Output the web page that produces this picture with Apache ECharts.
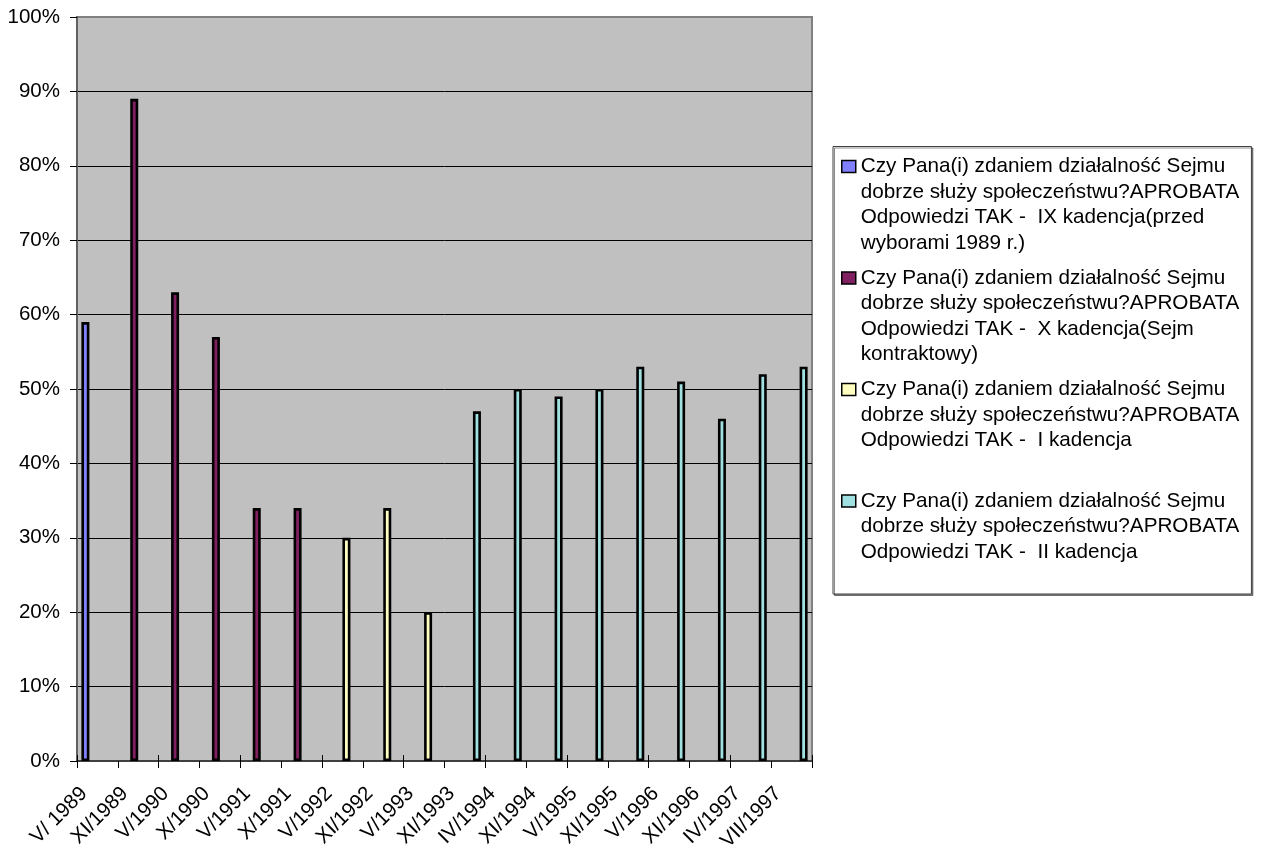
<!DOCTYPE html>
<html>
<head>
<meta charset="utf-8">
<script src="https://cdn.jsdelivr.net/npm/echarts@6/dist/echarts.min.js"></script>
<style>
  html, body { margin: 0; padding: 0; background: #ffffff; }
  #chart { width: 1264px; height: 854px; }
</style>
</head>
<body>
<div id="chart"></div>
<script>
// Survey dates (CBOS), one per category
const categories = [
  'V/ 1989', 'XI/1989', 'V/1990', 'X/1990', 'V/1991', 'X/1991',
  'V/1992', 'XI/1992', 'V/1993', 'XI/1993', 'IV/1994', 'XI/1994',
  'V/1995', 'XI/1995', 'V/1996', 'XI/1996', 'IV/1997', 'VII/1997'
];

// Share of "TAK" answers (%) per term of the Sejm
const kadencjaIX = [59, null, null, null, null, null, null, null, null, null, null, null, null, null, null, null, null, null];
const kadencjaX  = [null, 89, 63, 57, 34, 34, null, null, null, null, null, null, null, null, null, null, null, null];
const kadencjaI  = [null, null, null, null, null, null, 30, 34, 20, null, null, null, null, null, null, null, null, null];
const kadencjaII = [null, null, null, null, null, null, null, null, null, 47, 50, 49, 50, 53, 51, 46, 52, 53];

// Legend text, line by line
const legendIX = ['Czy Pana(i) zdaniem działalność Sejmu', 'dobrze służy społeczeństwu?APROBATA', 'Odpowiedzi TAK -  IX kadencja(przed', 'wyborami 1989 r.)'];
const legendX  = ['Czy Pana(i) zdaniem działalność Sejmu', 'dobrze służy społeczeństwu?APROBATA', 'Odpowiedzi TAK -  X kadencja(Sejm', 'kontraktowy)'];
const legendI  = ['Czy Pana(i) zdaniem działalność Sejmu', 'dobrze służy społeczeństwu?APROBATA', 'Odpowiedzi TAK -  I kadencja'];
const legendII = ['Czy Pana(i) zdaniem działalność Sejmu', 'dobrze służy społeczeństwu?APROBATA', 'Odpowiedzi TAK -  II kadencja'];

const yTicks = { min: 0, max: 100, step: 10 };

const colors = ['#8080FF', '#802060', '#FFFFC0', '#A0E0E0'];
const FONT = "'Liberation Sans', Arial, sans-serif";

const legendLines = [legendIX, legendX, legendI, legendII];
const seriesData = [kadencjaIX, kadencjaX, kadencjaI, kadencjaII];
const seriesNames = legendLines.map(l => l.join(' '));

// Every legend entry occupies a four-line slot; the swatch sits beside the first line
const LINE_H = 25.5;
const SLOT_H = LINE_H * 4;
const SW_W = 14, SW_H = 12;
const swTop = LINE_H / 2 - SW_H / 2;
const swatchPath = 'path://M0 0M0 ' + swTop + 'L' + SW_W + ' ' + swTop + 'L' + SW_W + ' ' + (swTop + SW_H) +
  'L0 ' + (swTop + SW_H) + 'ZM0 ' + SLOT_H;

const chart = echarts.init(document.getElementById('chart'), null, { renderer: 'canvas' });

const series = seriesNames.map((name, i) => ({
  name: name,
  type: 'bar',
  data: seriesData[i],
  barGap: '0%',
  barCategoryGap: '21.5%',
  itemStyle: { color: colors[i], borderColor: '#000000', borderWidth: 2.6 },
  emphasis: { disabled: true }
}));

chart.setOption({
  animation: false,
  backgroundColor: '#ffffff',
  textStyle: { fontFamily: FONT },
  grid: {
    left: 77, top: 17, right: 452, bottom: 91,
    show: true,
    backgroundColor: '#C0C0C0',
    borderColor: '#808080',
    borderWidth: 2
  },
  legend: {
    orient: 'vertical',
    left: 833, top: 146.5,
    padding: [6.5, 12, 3, 8],
    itemGap: 8,
    itemWidth: SW_W,
    itemHeight: SLOT_H,
    icon: swatchPath,
    itemStyle: { borderColor: '#000000', borderWidth: 1.5 },
    backgroundColor: '#ffffff',
    borderColor: '#404040',
    borderWidth: 1,
    shadowColor: 'rgba(0,0,0,0.45)',
    shadowOffsetX: 1.5,
    shadowOffsetY: 1.5,
    selectedMode: false,
    data: seriesNames,
    textStyle: { fontFamily: FONT, fontSize: 20.7, lineHeight: LINE_H, color: '#000000' },
    formatter: function (name) {
      const lines = legendLines[seriesNames.indexOf(name)].slice();
      while (lines.length < 4) lines.push(' ');
      return lines.join('\n');
    }
  },
  xAxis: [{
    type: 'category',
    data: categories,
    boundaryGap: true,
    axisLine: { show: true, lineStyle: { color: '#404040', width: 2 } },
    axisTick: { show: true, length: 7, lineStyle: { color: '#000000', width: 1 } },
    axisLabel: {
      interval: 0, rotate: 45, margin: 16, padding: [0, 19, 0, 0],
      fontFamily: FONT, fontSize: 20.5, color: '#000000'
    },
    splitLine: { show: false }
  }, {
    type: 'category',
    data: categories,
    position: 'bottom',
    boundaryGap: true,
    axisLine: { show: false },
    axisTick: { show: true, inside: true, length: 6, lineStyle: { color: '#000000', width: 1 } },
    axisLabel: { show: false },
    splitLine: { show: false }
  }],
  yAxis: {
    type: 'value',
    min: yTicks.min, max: yTicks.max, interval: yTicks.step,
    axisLine: { show: true, lineStyle: { color: '#606060', width: 2 } },
    axisTick: { show: true, length: 7, lineStyle: { color: '#000000', width: 1 } },
    axisLabel: { margin: 17, fontFamily: FONT, fontSize: 20.5, color: '#000000', formatter: '{value}%' },
    splitLine: { show: true, showMinLine: false, showMaxLine: false, lineStyle: { color: '#000000', width: 1 } }
  },
  series: series
});
</script>
</body>
</html>
